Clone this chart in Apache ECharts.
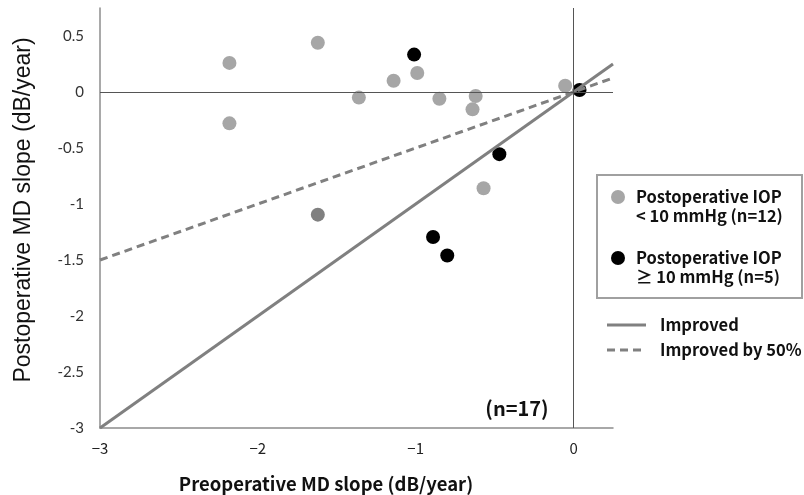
<!DOCTYPE html>
<html>
<head>
<meta charset="utf-8">
<script src="https://cdn.jsdelivr.net/npm/echarts@6/dist/echarts.min.js"></script>
<style>html,body{margin:0;padding:0;background:#fff;}#c{width:804px;height:495px;}</style>
</head>
<body>
<div id="c"></div>
<script>
// Postoperative IOP < 10 mmHg (n=12)
var lowIopX = [-2.18, -2.18, -1.62, -1.36, -1.14, -0.99, -0.85, -0.62, -0.64, -0.053, -0.57, -1.62];
var lowIopY = [0.26, -0.28, 0.44, -0.05, 0.10, 0.17, -0.06, -0.036, -0.155, 0.056, -0.86, -1.095];
var lowIopDarkIndex = 11;
// Postoperative IOP >= 10 mmHg (n=5)
var highIopX = [-1.01, 0.038, -0.47, -0.89, -0.80];
var highIopY = [0.334, 0.018, -0.555, -1.295, -1.46];
// Reference lines
var improvedX = [-3, 0.25];
var improvedY = [-3, 0.25];
var improved50X = [-3, 0.25];
var improved50Y = [-1.5, 0.125];
var xTicks = [-3, -2, -1, 0];
var yTicks = [-3, -2.5, -2, -1.5, -1, -0.5, 0, 0.5];

function pairs(xs, ys) { return xs.map(function (x, i) { return [x, ys[i]]; }); }

var jp = '"Noto Sans CJK JP", "Noto Sans", sans-serif';
var legFont = 'bold 16.5px ' + jp;
var chart = echarts.init(document.getElementById('c'), null, {renderer: 'canvas'});
chart.setOption({
  animation: false,
  backgroundColor: '#ffffff',
  grid: {left: 100, right: 191, top: 8, bottom: 67},
  xAxis: {
    type: 'value', min: -3, max: 0.25, interval: 1,
    axisLine: {show: true, onZero: false, lineStyle: {color: '#8c8c8c', width: 1.5}},
    axisTick: {show: false}, splitLine: {show: false},
    axisLabel: {
      showMaxLabel: false, margin: 13, color: '#222', fontFamily: jp, fontSize: 15,
      formatter: function (v) { return xTicks.indexOf(v) >= 0 ? String(v).replace('-', '\u2212') : ''; }
    }
  },
  yAxis: {
    type: 'value', min: -3, max: 0.75, interval: 0.5,
    axisLine: {show: true, onZero: false, lineStyle: {color: '#8c8c8c', width: 1.5}},
    axisTick: {show: false}, splitLine: {show: false},
    axisLabel: {
      showMaxLabel: false, margin: 16, color: '#333', fontFamily: 'Lato, "Open Sans", sans-serif', fontSize: 15,
      formatter: function (v) { return yTicks.indexOf(v) >= 0 ? String(v) : ''; }
    }
  },
  series: [
    {
      name: 'zero', type: 'line', data: [], silent: true, z: 1,
      markLine: {
        silent: true, symbol: 'none', animation: false, label: {show: false},
        lineStyle: {color: '#555', width: 1, type: 'solid'},
        data: [{xAxis: 0}, {yAxis: 0}]
      }
    },
    {
      name: 'Postoperative IOP < 10 mmHg (n=12)', type: 'scatter', z: 3,
      symbolSize: 14, data: pairs(lowIopX, lowIopY),
      itemStyle: {opacity: 1, color: function (p) { return p.dataIndex === lowIopDarkIndex ? '#808080' : '#a6a6a6'; }}
    },
    {
      name: 'Postoperative IOP \u2265 10 mmHg (n=5)', type: 'scatter', z: 3,
      symbolSize: 14, data: pairs(highIopX, highIopY),
      itemStyle: {opacity: 1, color: '#000000'}
    },
    {
      name: 'Improved', type: 'line', z: 4, symbol: 'none', data: pairs(improvedX, improvedY),
      lineStyle: {color: '#808080', width: 3}
    },
    {
      name: 'Improved by 50%', type: 'line', z: 4, symbol: 'none', data: pairs(improved50X, improved50Y),
      lineStyle: {color: '#808080', width: 3, type: [8, 5]}
    }
  ],
  graphic: [
    {type: 'rect', shape: {x: 597, y: 175, width: 205, height: 123}, style: {fill: 'none', stroke: '#a0a0a0', lineWidth: 2}},
    {type: 'circle', shape: {cx: 618, cy: 197, r: 7}, style: {fill: '#a6a6a6'}},
    {type: 'circle', shape: {cx: 618, cy: 258, r: 7}, style: {fill: '#000000'}},
    {type: 'text', x: 636, y: 197, style: {text: 'Postoperative IOP', font: legFont, fill: '#111', verticalAlign: 'middle'}},
    {type: 'text', x: 636, y: 216, style: {text: '< 10 mmHg (n=12)', font: legFont, fill: '#111', verticalAlign: 'middle'}},
    {type: 'text', x: 636, y: 258, style: {text: 'Postoperative IOP', font: legFont, fill: '#111', verticalAlign: 'middle'}},
    {type: 'text', x: 636, y: 277, style: {text: '\u2265 10 mmHg (n=5)', font: legFont, fill: '#111', verticalAlign: 'middle'}},
    {type: 'line', shape: {x1: 607, y1: 325, x2: 646, y2: 325}, style: {stroke: '#808080', lineWidth: 3}},
    {type: 'line', shape: {x1: 607, y1: 350, x2: 646, y2: 350}, style: {stroke: '#808080', lineWidth: 3, lineDash: [8, 5]}},
    {type: 'text', x: 660, y: 325, style: {text: 'Improved', font: legFont, fill: '#111', verticalAlign: 'middle'}},
    {type: 'text', x: 660, y: 350, style: {text: 'Improved by 50%', font: legFont, fill: '#111', verticalAlign: 'middle'}},
    {type: 'text', x: 517, y: 408, style: {text: '(n=17)', font: 'bold 20px ' + jp, fill: '#111', align: 'center', verticalAlign: 'middle'}},
    {type: 'text', x: 326, y: 484, style: {text: 'Preoperative MD slope (dB/year)', font: 'bold 18.5px ' + jp, fill: '#111', align: 'center', verticalAlign: 'middle'}},
    {type: 'text', x: 24, y: 210, rotation: Math.PI / 2, style: {text: 'Postoperative MD slope (dB/year)', font: '23px "Liberation Sans", Arial, sans-serif', fill: '#111', align: 'center', verticalAlign: 'middle'}}
  ]
});
</script>
</body>
</html>
